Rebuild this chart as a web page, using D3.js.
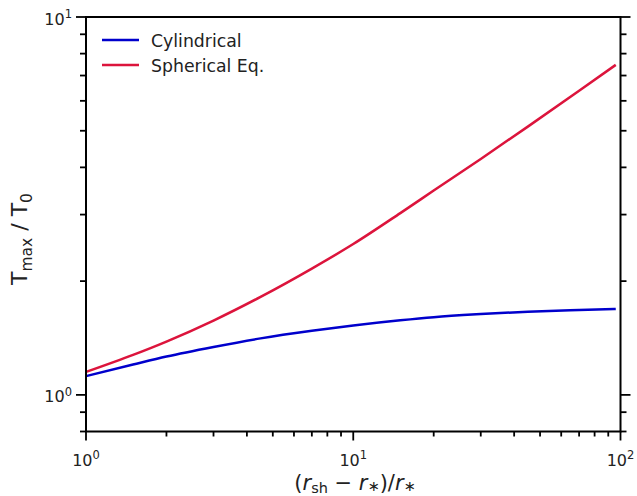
<!DOCTYPE html>
<html>
<head>
<meta charset="utf-8">
<script src="https://cdn.jsdelivr.net/npm/d3@7"></script>
<style>
  html, body { margin: 0; padding: 0; background: #fff; }
  svg { display: block; font-family: "DejaVu Sans", sans-serif; }
</style>
</head>
<body>
<svg id="chart" width="637" height="496"></svg>
<script>
// Shock radius offset (r_sh - r_*)/r_*
const radius = [1, 1.5, 2, 3, 4.5, 7, 10, 15, 20, 30, 45, 70, 96];
// Peak temperature ratio for each geometry
const cylindrical = [1.121, 1.203, 1.263, 1.339, 1.411, 1.478, 1.527, 1.576, 1.606, 1.636, 1.660, 1.677, 1.688];
const sphericalEq = [1.150, 1.276, 1.384, 1.573, 1.817, 2.159, 2.507, 3.027, 3.473, 4.211, 5.128, 6.377, 7.470];
const seriesNames = ["Cylindrical", "Spherical Eq."];
const seriesColors = ["#0000cc", "#dc143c"];
const xMajor = [1, 10, 100];
const yMajor = [1, 10];

const svg = d3.select("#chart");
const plotL = 86, plotR = 620.5, plotT = 17, plotB = 431.5;

const x = d3.scaleLog().domain([1, 100]).range([plotL, plotR]);
const y = d3.scaleLog().domain([0.8, 10]).range([plotB, plotT]);

const minorOf = (lo, hi) => {
  const out = [];
  for (let e = -1; e <= 2; e++) {
    for (let m = 2; m <= 9; m++) {
      const v = m * Math.pow(10, e);
      if (v >= lo - 1e-9 && v <= hi + 1e-9) out.push(v);
    }
  }
  return out;
};
const xMinor = minorOf(1, 100);
const yMinor = minorOf(0.8, 10);

const tickColor = "#000";
const g = svg.append("g");

// Series lines
const line = d3.line()
  .x(d => x(d[0]))
  .y(d => y(d[1]))
  .curve(d3.curveMonotoneX);

[cylindrical, sphericalEq].forEach((vals, i) => {
  g.append("path")
    .datum(radius.map((r, k) => [r, vals[k]]))
    .attr("fill", "none")
    .attr("stroke", seriesColors[i])
    .attr("stroke-width", 2.5)
    .attr("d", line);
});

// Frame
g.append("rect")
  .attr("x", plotL).attr("y", plotT)
  .attr("width", plotR - plotL).attr("height", plotB - plotT)
  .attr("fill", "none").attr("stroke", "#000").attr("stroke-width", 2);

// Tick marks
function ticks(vals, len, orient) {
  vals.forEach(v => {
    let x1, x2, y1, y2;
    if (orient === "left") { y1 = y2 = y(v); x1 = plotL; x2 = plotL - len; }
    if (orient === "right") { y1 = y2 = y(v); x1 = plotR; x2 = plotR + len; }
    if (orient === "bottom") { x1 = x2 = x(v); y1 = plotB; y2 = plotB + len; }
    g.append("line").attr("x1", x1).attr("x2", x2).attr("y1", y1).attr("y2", y2)
      .attr("stroke", tickColor).attr("stroke-width", 1.8);
  });
}
ticks(yMajor, 10, "left");
ticks(yMinor, 6, "left");
ticks(yMajor, 10, "right");
ticks(yMinor, 6, "right");
ticks(xMajor, 9, "bottom");
ticks(xMinor, 5, "bottom");

// Power-of-ten labels
function powLabel(v, px, py, anchor) {
  const t = g.append("text")
    .attr("x", px).attr("y", py)
    .attr("text-anchor", anchor)
    .attr("font-size", 16)
    .attr("fill", "#222");
  t.append("tspan").text("10");
  t.append("tspan").attr("font-size", 11.5).attr("dy", -6.5)
    .text(Math.round(Math.log10(v)));
}
xMajor.forEach(v => powLabel(v, x(v), 465.5, "middle"));
yMajor.forEach(v => powLabel(v, 72, y(v) + 7.5, "end"));

// Axis titles
const xt = g.append("text")
  .attr("x", 355).attr("y", 490)
  .attr("text-anchor", "middle")
  .attr("font-size", 21)
  .attr("fill", "#222");
xt.append("tspan").text("(");
xt.append("tspan").attr("font-style", "italic").text("r");
xt.append("tspan").attr("font-size", 14.5).attr("dy", 3).text("sh");
xt.append("tspan").attr("dy", -3).text(" \u2212 ");
xt.append("tspan").attr("font-style", "italic").text("r");
xt.append("tspan").attr("font-size", 14.5).attr("dy", 1).text("\u2217");
xt.append("tspan").attr("dy", -1).text(")/");
xt.append("tspan").attr("font-style", "italic").text("r");
xt.append("tspan").attr("font-size", 14.5).attr("dy", 1).text("\u2217");

const yt = g.append("text")
  .attr("transform", "translate(27,239) rotate(-90)")
  .attr("text-anchor", "middle")
  .attr("font-size", 22)
  .attr("fill", "#222");
yt.append("tspan").text("T");
yt.append("tspan").attr("font-size", 15.5).attr("dy", 4.5).text("max");
yt.append("tspan").attr("dy", -4.5).text(" / T");
yt.append("tspan").attr("font-size", 15.5).attr("dy", 4.5).text("0");

// Legend
seriesNames.forEach((name, i) => {
  const ly = 40 + i * 25;
  g.append("line").attr("x1", 102).attr("x2", 139).attr("y1", ly).attr("y2", ly)
    .attr("stroke", seriesColors[i]).attr("stroke-width", 2.5);
  g.append("text").attr("x", 151).attr("y", ly + 6.5)
    .attr("font-size", 17.3).attr("fill", "#222").text(name);
});
</script>
</body>
</html>
